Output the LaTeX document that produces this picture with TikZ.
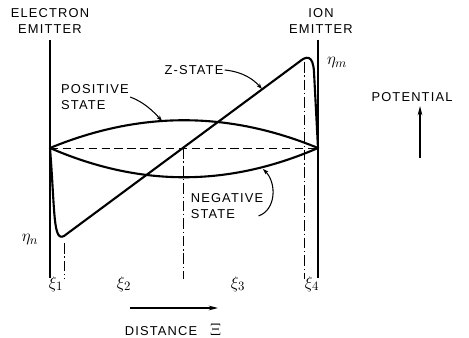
\documentclass[tikz,border=0pt]{standalone}
\usepackage{fontspec}
\setsansfont[LetterSpace=9]{Liberation Sans}
\usepackage{tikz}
\usetikzlibrary{
  arrows.meta,
  calc
}
\tikzset{
  >=Stealth,
  emitter/.style={line width=1.2pt},
  statecurve/.style={line width=1.8pt,line join=round},
  axisline/.style={dash pattern=on 7pt off 4pt,line width=0.6pt},
  plane/.style={dash pattern=on 9pt off 2.5pt on 1pt off 2.5pt,line width=0.7pt},
  leader/.style={-{Stealth[length=5pt,width=3.5pt]},line width=0.9pt},
  dirarrow/.style={-{Stealth[length=8pt,width=4pt]},line width=1pt},
  lbl/.style={font=\sffamily\fontsize{11}{13.5}\selectfont,align=center,inner sep=1pt},
  sym/.style={font=\fontsize{15}{17}\selectfont,inner sep=1pt}
}

\begin{document}
\begin{tikzpicture}[x=0.03cm,y=-0.03cm]
    \useasboundingbox (0,0) rectangle (469,338);
    \coordinate (lo) at (50,148);
    \coordinate (ro) at (318,148);

    % emitters and reference planes
    \draw[emitter] (50,40) -- (50,278);
    \draw[emitter] (318,40) -- (318,278);
    \draw[axisline] (lo) -- (ro);
    \foreach \x/\y in {64/243,183/148,304/62}
        \draw[plane] (\x,\y) -- (\x,279);

    % potential curves
    \draw[statecurve] (lo) .. controls (140,111) and (228,111) .. (ro);
    \draw[statecurve] (lo) .. controls (140,187) and (228,187) .. (ro);
    \draw[statecurve] (lo) .. controls (55,212) and (53,242) .. (64,236)
        -- (299,62) .. controls (306,56) and (313,54) .. (314,72) -- (ro);

    % labels
    \node[lbl] (ee) at (50,21) {ELECTRON\\EMITTER};
    \node[lbl] (ie) at (321,21) {ION\\EMITTER};
    \node[lbl] (zs) at (194,70) {Z-STATE};
    \node[lbl,align=left] (ps) at (95,97) {POSITIVE\\STATE};
    \node[lbl,align=left] (ns) at (227,206) {NEGATIVE\\STATE};
    \node[lbl] (pot) at (412,97) {POTENTIAL};
    \node[lbl] (dist) at (173,330) {DISTANCE\quad{\fontsize{14}{16}\selectfont$\Xi$}};
    \node[sym] (etan) at (30,240) {$\eta_n$};
    \node[sym] (etam) at (337,63) {$\eta_m$};
    \foreach \x/\i in {56/1,124/2,238/3,312/4}
        \node[sym] (xi\i) at (\x,284) {$\xi_{\i}$};

    % leaders
    \coordinate (zt) at (262,89);
    \coordinate (pt) at (162,121);
    \coordinate (nt) at (263,169);
    \draw[leader] (zs.east) .. controls (244,72) and (254,80) .. (zt);
    \draw[leader] (ps.east) .. controls (144,102) and (154,112) .. (pt);
    \draw[leader] ($(ns.south east)+(-6,-4)$) .. controls (276,210) and (277,183) .. (nt);

    % direction arrows
    \coordinate (pa) at (420,158);
    \coordinate (pb) at (420,106);
    \coordinate (da) at (130,308);
    \coordinate (db) at (218,308);
    \draw[dirarrow] (pa) -- (pb);
    \draw[dirarrow] (da) -- (db);
\end{tikzpicture}
\end{document}
